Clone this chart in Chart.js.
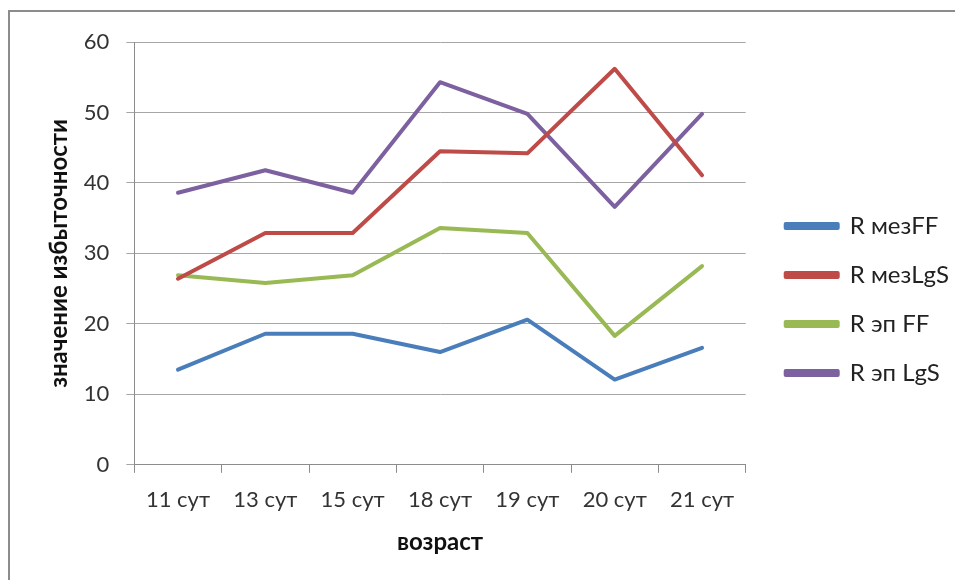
<!DOCTYPE html>
<html>
<head>
<meta charset="utf-8">
<script src="https://cdn.jsdelivr.net/npm/chart.js@4/dist/chart.umd.min.js"></script>
<style>
  html, body { margin: 0; padding: 0; background: #fff; }
  #wrap { position: relative; width: 955px; height: 580px; overflow: hidden; }
  #frame { position: absolute; left: 8px; top: 10px; width: 1000px; height: 700px;
           border-top: 2px solid #8c8c8c; border-left: 2px solid #8c8c8c; }
  #c { position: absolute; left: 0; top: 0; }
</style>
</head>
<body>
<div id="wrap">
  <div id="frame"></div>
  <canvas id="c" width="955" height="580"></canvas>
</div>
<script>
// Age points (days)
const categories = ['11 сут', '13 сут', '15 сут', '18 сут', '19 сут', '20 сут', '21 сут'];

// Redundancy values per series
const rMezFF  = [13.5, 18.6, 18.6, 16.0, 20.6, 12.1, 16.6];
const rMezLgS = [26.4, 32.9, 32.9, 44.5, 44.2, 56.2, 41.1];
const rEpFF   = [26.9, 25.8, 26.9, 33.6, 32.9, 18.3, 28.2];
const rEpLgS  = [38.6, 41.8, 38.6, 54.3, 49.8, 36.6, 49.8];

const seriesNames = ['R мезFF', 'R мезLgS', 'R эп FF', 'R эп LgS'];
const seriesColors = ['#4a7ebb', '#be4b48', '#98b954', '#7d60a0'];
const seriesValues = [rMezFF, rMezLgS, rEpFF, rEpLgS];

const yTitle = 'значение избыточности';
const xTitle = 'возраст';

const FONT = 'Lato, "Open Sans", sans-serif';

const datasets = seriesValues.map((vals, i) => ({
  label: seriesNames[i],
  data: vals,
  borderColor: seriesColors[i],
  backgroundColor: seriesColors[i],
  borderWidth: 4,
  pointRadius: 0,
  pointHoverRadius: 0,
  tension: 0,
  borderCapStyle: 'round',
  borderJoinStyle: 'round',
  fill: false
}));

// Widen the legend box a little and push its items right, leaving a gap
// between the plot and the legend keys.
const LEGEND_EXTRA = 9;
const LEGEND_SHIFT = 15;
const legendGap = {
  id: 'legendGap',
  beforeUpdate(chart) {
    const lg = chart.legend;
    if (lg && !lg._gapPatched) {
      const baseFit = lg.fit;
      lg.fit = function () {
        baseFit.call(this);
        this.width += LEGEND_EXTRA;
      };
      lg._gapPatched = true;
    }
  },
  afterLayout(chart) {
    if (chart.legend) chart.legend.left += LEGEND_SHIFT;
  }
};

new Chart(document.getElementById('c'), {
  type: 'line',
  data: { labels: categories, datasets },
  plugins: [legendGap],
  options: {
    responsive: false,
    animation: false,
    devicePixelRatio: 1,
    layout: { padding: { top: 42, right: 2, bottom: 23, left: 45 } },
    plugins: {
      tooltip: { enabled: false },
      legend: {
        position: 'right',
        align: 'center',
        labels: {
          boxWidth: 52,
          boxHeight: 4,
          padding: 25,
          color: '#222',
          font: { family: FONT, size: 24 }
        }
      }
    },
    scales: {
      x: {
        offset: true,
        grid: {
          offset: true,
          drawOnChartArea: false,
          drawTicks: true,
          tickLength: 8,
          color: '#8c8c8c'
        },
        border: { color: '#8c8c8c', width: 1 },
        ticks: {
          color: '#333',
          font: { family: FONT, size: 22 },
          padding: 14,
          maxRotation: 0
        },
        title: {
          display: true,
          text: xTitle,
          color: '#111',
          font: { family: FONT, size: 24, weight: 'bold' },
          padding: { top: 1, bottom: 0 }
        }
      },
      y: {
        min: 0,
        max: 60,
        afterFit(scale) { scale.width -= 7; },
        ticks: {
          stepSize: 10,
          color: '#333',
          font: { family: FONT, size: 22 },
          padding: 17
        },
        grid: {
          color: '#a6a6a6',
          lineWidth: 1,
          tickLength: 8
        },
        border: { color: '#8c8c8c', width: 1 },
        title: {
          display: true,
          text: yTitle,
          color: '#111',
          font: { family: FONT, size: 24, weight: 'bold' },
          padding: { top: 0, bottom: 0 }
        }
      }
    }
  }
});
</script>
</body>
</html>
